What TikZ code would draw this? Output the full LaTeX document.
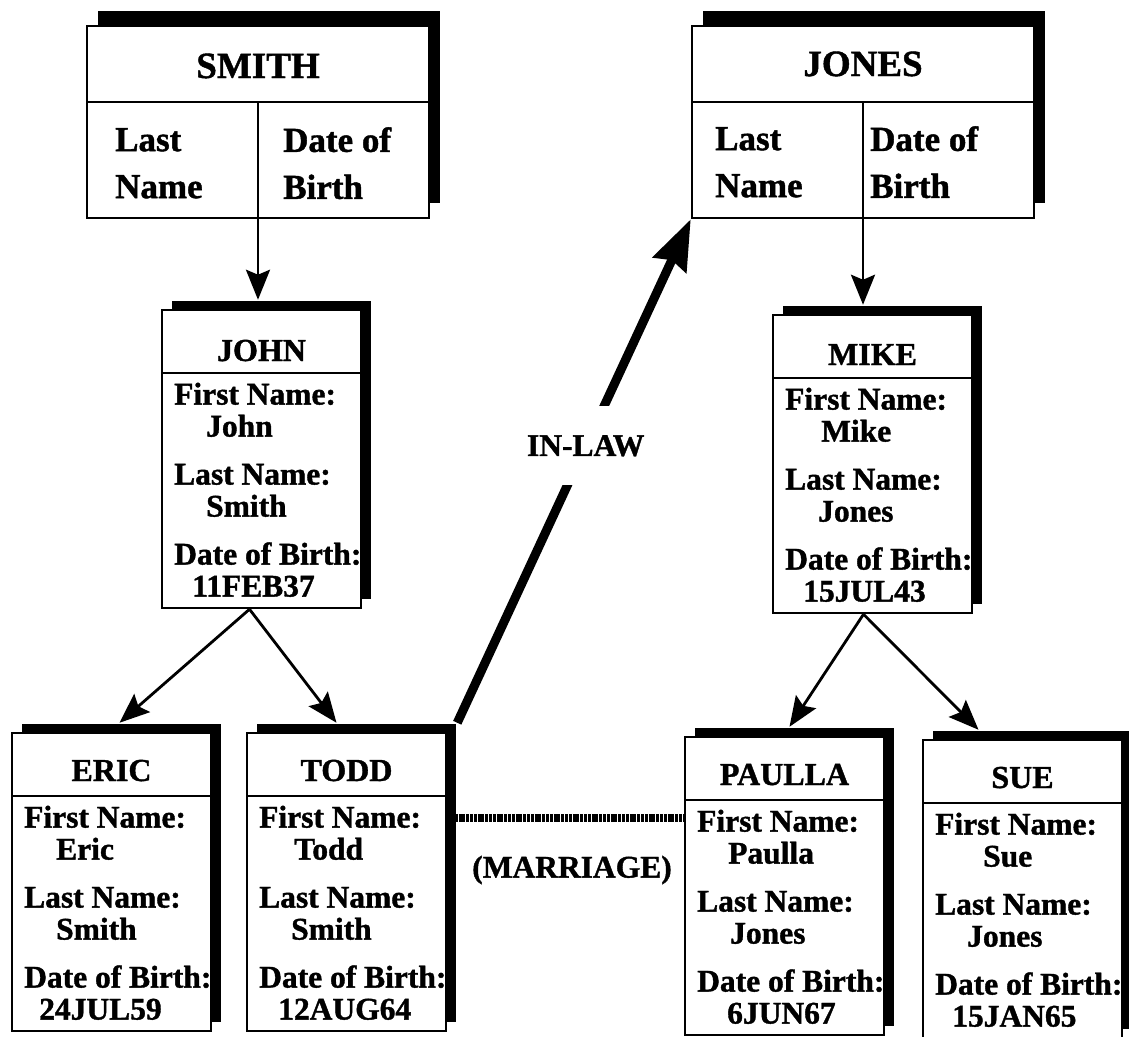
\documentclass[tikz,border=0pt]{standalone}
\usepackage{fontspec}
\setmainfont{Liberation Serif}[BoldFeatures={FakeBold=1.2}]
\usetikzlibrary{arrows.meta,shadows,calc}

\tikzset{
    family/.style={draw, line width=2.5pt, fill=white, minimum width=342pt, minimum height=192pt,
        drop shadow={shadow xshift=11pt, shadow yshift=15pt, fill=black, opacity=1}},
    person/.style={draw, line width=2.5pt, fill=white, minimum width=199pt, minimum height=298pt,
        drop shadow={shadow xshift=10pt, shadow yshift=9pt, fill=black, opacity=1}},
    rule/.style={line width=2.5pt},
    famtitle/.style={font=\fontsize{37}{40}\selectfont\bfseries, anchor=base, inner sep=0pt},
    famdata/.style={font=\fontsize{35}{47}\selectfont\bfseries, align=left, anchor=north west, inner sep=0pt},
    pertitle/.style={font=\fontsize{32}{34}\selectfont\bfseries, anchor=base, inner sep=0pt},
    perdata/.style={font=\fontsize{31.5}{32}\selectfont\bfseries, align=left, anchor=north west, inner sep=0pt},
    kid/.style={line width=2.8pt, -{Stealth[length=30pt, width=24pt, inset=5pt]}},
    inlaw/.style={line width=9pt, -{Stealth[length=50pt, width=36pt, inset=5pt]}},
    marriage/.style={line width=8pt, dash pattern=on 3pt off 0.8pt},
    tag/.style={font=\fontsize{31.5}{34}\selectfont\bfseries}
}

\begin{document}
\begin{tikzpicture}[x=1pt,y=-1pt]
    \useasboundingbox (0,0) rectangle (1129,1036);

    % Family SMITH
    \begin{scope}[shift={(87,26)}]
        \node[family, name=smith] at (171,96) {};
        \draw[rule] (0,76) -- (342,76);
        \draw[rule] (171,76) -- (171,192);
        \node[famtitle, name=smith-title] at (171,52) {SMITH};
        \node[famdata, name=smith-last] at (28,102) {Last\\Name};
        \node[famdata, name=smith-birth] at (196,101) {Date of\\Birth};
    \end{scope}

    % Family JONES
    \begin{scope}[shift={(692,26)}]
        \node[family, name=jones] at (171,96) {};
        \draw[rule] (0,76) -- (342,76);
        \draw[rule] (171,76) -- (171,192);
        \node[famtitle, name=jones-title] at (171,50) {JONES};
        \node[famdata, name=jones-last] at (23,101) {Last\\Name};
        \node[famdata, name=jones-birth] at (178,100) {Date of\\Birth};
    \end{scope}

    % JOHN
    \begin{scope}[shift={(162,310)}]
        \node[person, name=john] at (99.5,149) {};
        \draw[rule] (0,63) -- (199,63);
        \node[pertitle, name=john-title] at (99.5,51) {JOHN};
        \node[perdata, name=john-data] at (12,72.5) {First Name:\\\hspace*{32pt}John\\[16pt]Last Name:\\\hspace*{32pt}Smith\\[16pt]Date of Birth:\\\hspace*{18pt}11FEB37};
    \end{scope}

    % MIKE
    \begin{scope}[shift={(773,315)}]
        \node[person, name=mike] at (99.5,149) {};
        \draw[rule] (0,63) -- (199,63);
        \node[pertitle, name=mike-title] at (99.5,50) {MIKE};
        \node[perdata, name=mike-data] at (12,72.5) {First Name:\\\hspace*{36pt}Mike\\[16pt]Last Name:\\\hspace*{33pt}Jones\\[16pt]Date of Birth:\\\hspace*{18pt}15JUL43};
    \end{scope}

    % ERIC
    \begin{scope}[shift={(12,733)}]
        \node[person, name=eric] at (99.5,149) {};
        \draw[rule] (0,63) -- (199,63);
        \node[pertitle, name=eric-title] at (99.5,48) {ERIC};
        \node[perdata, name=eric-data] at (12,72.5) {First Name:\\\hspace*{32pt}Eric\\[16pt]Last Name:\\\hspace*{32pt}Smith\\[16pt]Date of Birth:\\\hspace*{15pt}24JUL59};
    \end{scope}

    % TODD
    \begin{scope}[shift={(247,733)}]
        \node[person, name=todd] at (99.5,149) {};
        \draw[rule] (0,63) -- (199,63);
        \node[pertitle, name=todd-title] at (99.5,48) {TODD};
        \node[perdata, name=todd-data] at (12,72.5) {First Name:\\\hspace*{35pt}Todd\\[16pt]Last Name:\\\hspace*{32pt}Smith\\[16pt]Date of Birth:\\\hspace*{19pt}12AUG64};
    \end{scope}

    % PAULLA
    \begin{scope}[shift={(685,737)}]
        \node[person, name=paulla] at (99.5,149) {};
        \draw[rule] (0,63) -- (199,63);
        \node[pertitle, name=paulla-title] at (99.5,48) {PAULLA};
        \node[perdata, name=paulla-data] at (12,72.5) {First Name:\\\hspace*{31pt}Paulla\\[16pt]Last Name:\\\hspace*{33pt}Jones\\[16pt]Date of Birth:\\\hspace*{30pt}6JUN67};
    \end{scope}

    % SUE
    \begin{scope}[shift={(923,740)}]
        \node[person, name=sue] at (99.5,149) {};
        \draw[rule] (0,63) -- (199,63);
        \node[pertitle, name=sue-title] at (99.5,48) {SUE};
        \node[perdata, name=sue-data] at (12,72.5) {First Name:\\\hspace*{48pt}Sue\\[16pt]Last Name:\\\hspace*{32pt}Jones\\[16pt]Date of Birth:\\\hspace*{17pt}15JAN65};
    \end{scope}

    % Parent links
    \draw[kid] (smith.south) -- ($(smith.south |- john.north)+(0,-9)$);
    \draw[kid] (jones.south) -- ($(jones.south |- mike.north)+(0,-9)$);
    \draw[kid] ($(john.south)+(-12,0)$) -- ($(eric.north)+(8,-9)$);
    \draw[kid] ($(john.south)+(-12,0)$) -- ($(todd.north)+(-10,-9)$);
    \draw[kid] ($(mike.south)+(-9,0)$) -- ($(paulla.north)+(5,-9)$);
    \draw[kid] ($(mike.south)+(-9,0)$) -- ($(sue.north)+(-44,-9)$);

    % Marriage and in-law
    \coordinate (wed) at ($(todd.east)+(0,-64)$);
    \draw[marriage] (wed) -- (wed -| paulla.west);
    \node[tag, name=wedding] at (572,870) {(MARRIAGE)};
    \draw[inlaw] ($(todd.north east)+(10,-9)$) -- node[tag, pos=0.55, fill=white, inner xsep=8pt, inner ysep=29pt, name=inlaw-tag] {IN-LAW} (jones.south west);
\end{tikzpicture}
\end{document}
